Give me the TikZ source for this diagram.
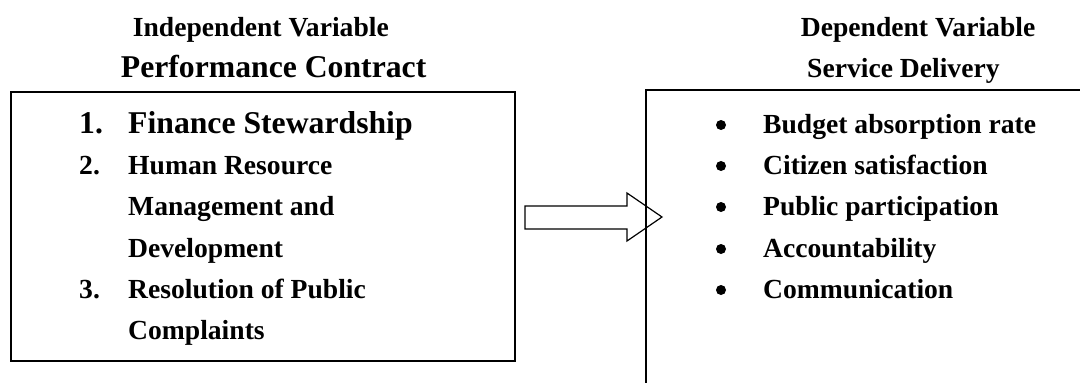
\documentclass[tikz,border=0pt]{standalone}
\usepackage{fontspec}
\setmainfont{Liberation Serif}
\begin{document}
\begin{tikzpicture}[x=1pt,y=-1pt,
  itm/.style={anchor=base west, inner sep=0pt, font=\fontsize{27.6}{30}\selectfont\bfseries},
  big/.style={anchor=base west, inner sep=0pt, font=\fontsize{31.7}{34}\selectfont\bfseries},
  frame/.style={line width=1.6pt},
  blt/.style={circle, fill=black, inner sep=0pt, minimum size=10pt},
  blockarrow/.style={line width=1.2pt, line join=miter}]
\useasboundingbox (0,0) rectangle (1080,383);
% headings
\node[itm] (iv) at (132.7,36) {Independent Variable};
\node[big] (pc) at (120.7,77) {Performance Contract};
\node[itm] (dv) at (800.7,36) {Dependent Variable};
\node[itm] (sd) at (807,77) {Service Delivery};
% left box
\node[draw, frame, anchor=north west, minimum width=504pt, minimum height=269pt, inner sep=0pt] (lbox) at (10,91) {};
% right box (open at right and bottom)
\coordinate (rb) at (646,383);
\coordinate (rtl) at (646,90);
\coordinate (rtr) at (1080,90);
\draw[frame] (rb) -- (rtl) -- (rtr);
% left items
\node[big] (n1) at (79,133) {1.};
\node[big] (t1) at (128,133) {Finance Stewardship};
\node[itm] (n2) at (79,174) {2.};
\node[itm] (t2a) at (128,174) {Human Resource};
\node[itm] (t2b) at (128,215) {Management and};
\node[itm] (t2c) at (128,257) {Development};
\node[itm] (n3) at (79,298) {3.};
\node[itm] (t3a) at (128,298) {Resolution of Public};
\node[itm] (t3b) at (128,339) {Complaints};
% right items
\node[blt] (b1) at (721,125) {};
\node[itm] (r1) at (763,133) {Budget absorption rate};
\node[blt] (b2) at (721,166) {};
\node[itm] (r2) at (763,174) {Citizen satisfaction};
\node[blt] (b3) at (721,207) {};
\node[itm] (r3) at (763,215) {Public participation};
\node[blt] (b4) at (721,249) {};
\node[itm] (r4) at (763,257) {Accountability};
\node[blt] (b5) at (721,290) {};
\node[itm] (r5) at (763,298) {Communication};
% block arrow
\draw[blockarrow] (525,206) -- (627,206) -- (627,193) -- (662,217) -- (627,241) -- (627,229) -- (525,229) -- cycle;
\end{tikzpicture}
\end{document}
